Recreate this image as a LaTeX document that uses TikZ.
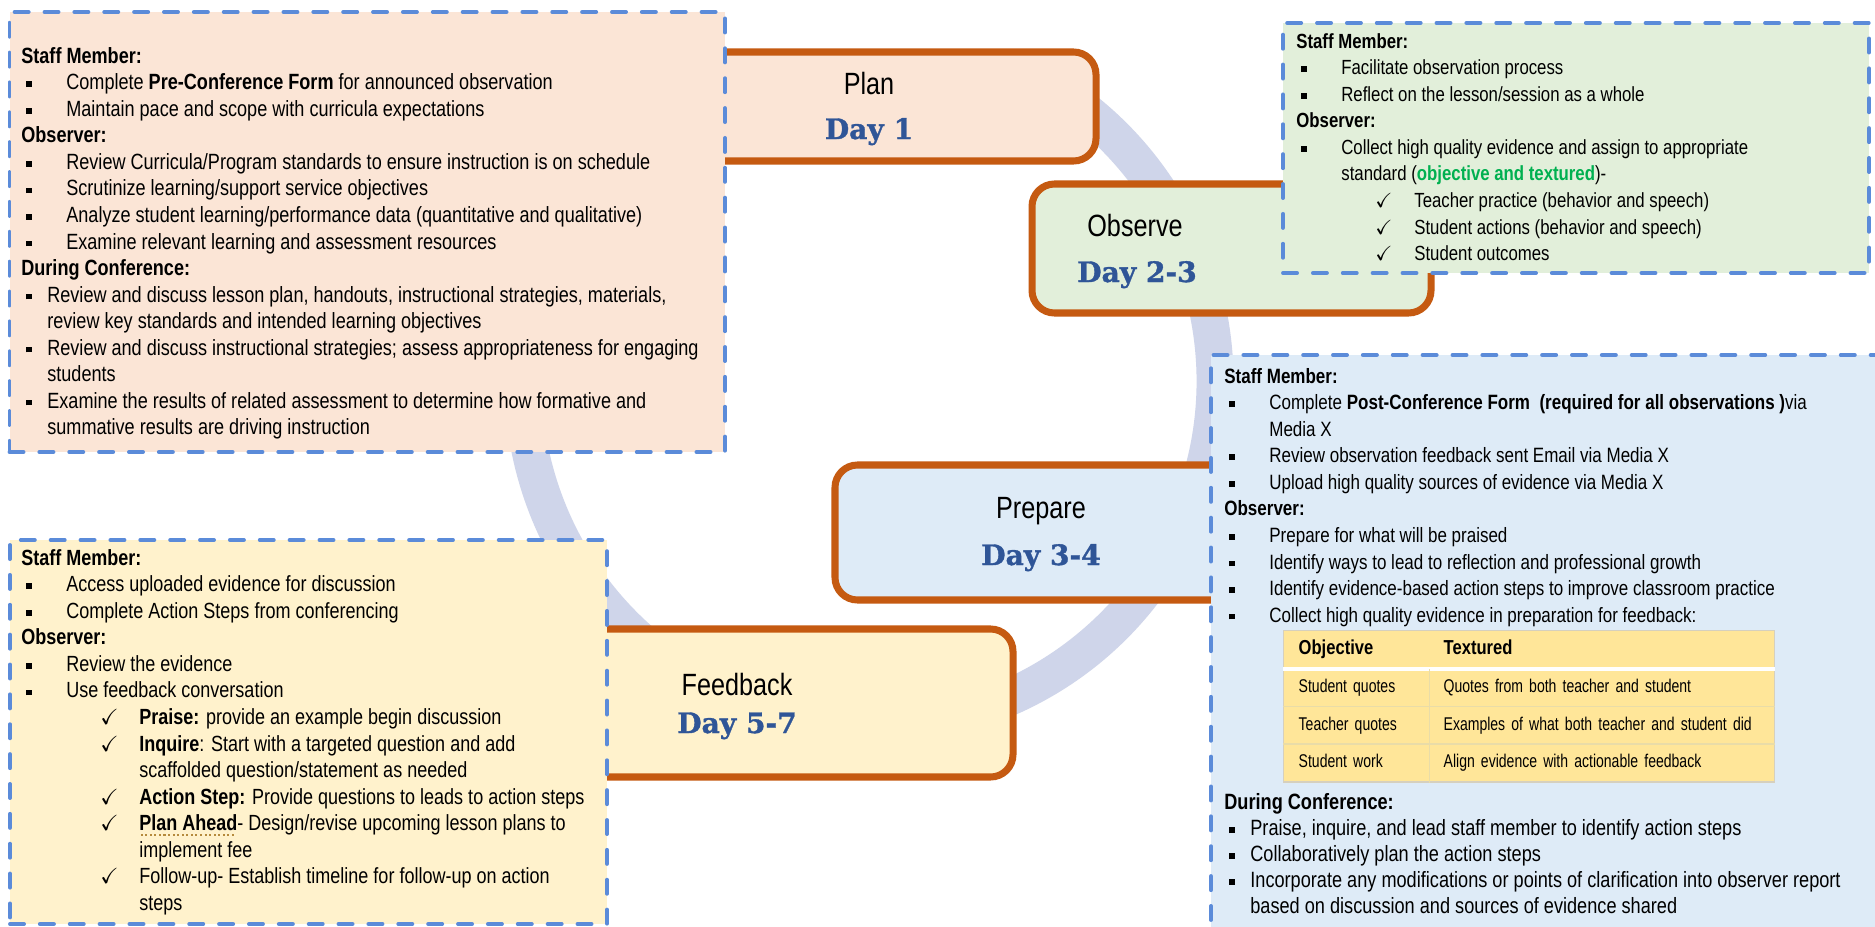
\documentclass[tikz,border=0pt]{standalone}
\usepackage{fontspec}
\setmainfont{Liberation Sans}[FakeStretch=0.82]
\newfontfamily\dayfont{DejaVu Serif}[BoldFeatures={FakeBold=1.2}]
\newfontfamily\cellfont{Liberation Sans}[FakeStretch=0.76]
\usepackage{amssymb}
\usetikzlibrary{fit,matrix}

\definecolor{peach}{HTML}{FBE5D6}
\definecolor{mint}{HTML}{E2EFDA}
\definecolor{sky}{HTML}{DEEBF7}
\definecolor{cream}{HTML}{FFF2CC}
\definecolor{rust}{HTML}{C55A11}
\definecolor{dashblue}{HTML}{5B8BD9}
\definecolor{ringblue}{HTML}{CFD5EA}
\definecolor{dayblue}{HTML}{2F5597}
\definecolor{keygreen}{HTML}{00B050}
\definecolor{tablegold}{HTML}{FFE699}
\definecolor{tablerule}{HTML}{E9DCA8}
\definecolor{tableedge}{HTML}{D6D0BE}
\definecolor{dotbrown}{HTML}{B58A3C}

% fonts for the note boxes
\newcommand{\notefont}[1]{\fontsize{#1}{15.1}\selectfont}
\newcommand{\tablefont}{\cellfont\fontsize{10.5}{12}\selectfont}
\newcommand{\headfont}{\fontsize{11.5}{13}\selectfont\bfseries}
% list items: square bullet, compact bullet, check mark, continued lines
\newcommand{\sqb}{\rule[1.6pt]{3.2pt}{3.2pt}}
\newcommand{\bul}[1]{\hspace*{0.1cm}\makebox[0.8cm][l]{\sqb}#1}
\newcommand{\bulc}[1]{\hspace*{0.1cm}\makebox[0.42cm][l]{\sqb}#1}
\newcommand{\chk}[1]{\hspace*{1.58cm}\makebox[0.78cm][l]{$\checkmark$}#1}
\newcommand{\contline}[1]{\hspace*{0.9cm}#1}
\newcommand{\contlinec}[1]{\hspace*{0.52cm}#1}
\newcommand{\contlinek}[1]{\hspace*{2.36cm}#1}
\newcommand{\dotul}[1]{\setbox0=\hbox{#1}\rlap{\color{dotbrown}\raisebox{-3pt}[0pt][0pt]{\hbox to \wd0{\leaders\hbox to 2.6pt{\hss\rule{1.2pt}{1.2pt}\hss}\hfill}}}\box0}

\begin{document}
\begin{tikzpicture}[x=0.02cm,y=-0.02cm]
    \tikzstyle{stagebox}=[draw=rust,line width=4pt,rounded corners=0.45cm,inner sep=0pt]
    \tikzstyle{notebox}=[draw=dashblue,line width=2.2pt,dash pattern=on 8pt off 9pt,line cap=round,inner sep=0pt]
    \tikzstyle{stagetitle}=[anchor=base,inner sep=0pt,font=\fontsize{17.5}{20}\selectfont]
    \tikzstyle{daytitle}=[anchor=base,inner sep=0pt,text=dayblue,font=\dayfont\bfseries\fontsize{16}{18}\selectfont]
    \tikzstyle{notetext}=[anchor=north west,inner sep=0pt,align=left]
    \tikzstyle{tablecell}=[inner xsep=0.3cm,inner ysep=0pt,minimum height=0.75cm,text height=7pt,text depth=2pt,align=left,font=\tablefont]

    \useasboundingbox (0,0) rectangle (1875,926);
    \clip (0,0) rectangle (1875,926);
    \fill[white] (0,0) rectangle (1875,926);

    % the cycle ring
    \draw[ringblue,line width=0.74cm] (869,381) ++(-60:346) arc[start angle=-60,end angle=210,radius=346];

    % stages
    \node (plan)[stagebox,fill=peach,fit={(642,52) (1096,161)}] {};
    \node (observe)[stagebox,fill=mint,fit={(1032,184) (1431,313)}] {};
    \node (prepare)[stagebox,fill=sky,fit={(835,465) (1250,600)}] {};
    \node (feedback)[stagebox,fill=cream,fit={(460,629) (1013,777)}] {};
    \node (plantitle)[stagetitle] at (869,94) {Plan};
    \node (planday)[daytitle] at (869,139) {Day 1};
    \node (observetitle)[stagetitle] at (1135,236) {Observe};
    \node (observeday)[daytitle] at (1137,282) {Day 2-3};
    \node (preparetitle)[stagetitle] at (1041,518) {Prepare};
    \node (prepareday)[daytitle] at (1041,565) {Day 3-4};
    \node (feedbacktitle)[stagetitle] at (737,695) {Feedback};
    \node (feedbackday)[daytitle] at (737,733) {Day 5-7};

    % note boxes
    \node (plannotes)[notebox,fill=peach,fit={(9.5,12) (725,452)}] {};
    \node (observenotes)[notebox,fill=mint,fit={(1283,23) (1869,273)}] {};
    \node (preparenotes)[notebox,fill=sky,fit={(1211,355) (1895,945)}] {};
    \node (feedbacknotes)[notebox,fill=cream,fit={(10,540) (607,924)}] {};

    \node (plantext)[notetext,font=\notefont{12.55}] at (21,44.4) {\strut\textbf{Staff Member:}\\
        \bul{Complete \textbf{Pre-Conference Form} for announced observation}\\
        \bul{Maintain pace and scope with curricula expectations}\\
        \textbf{Observer:}\\
        \bul{Review Curricula/Program standards to ensure instruction is on schedule}\\
        \bul{Scrutinize learning/support service objectives}\\
        \bul{Analyze student learning/performance data (quantitative and qualitative)}\\
        \bul{Examine relevant learning and assessment resources}\\
        \textbf{During Conference:}\\
        \bulc{Review and discuss lesson plan, handouts, instructional strategies, materials,}\\
        \contlinec{review key standards and intended learning objectives}\\
        \bulc{Review and discuss instructional strategies; assess appropriateness for engaging}\\
        \contlinec{students}\\
        \bulc{Examine the results of related assessment to determine how formative and}\\
        \contlinec{summative results are driving instruction}};

    \node (observetext)[notetext,font=\notefont{11.65}] at (1296,29.4) {\strut\textbf{Staff Member:}\\
        \bul{Facilitate observation process}\\
        \bul{Reflect on the lesson/session as a whole}\\
        \textbf{Observer:}\\
        \bul{Collect high quality evidence and assign to appropriate}\\
        \contline{standard ({\color{keygreen}\bfseries objective and textured})-}\\
        \chk{Teacher practice (behavior and speech)}\\
        \chk{Student actions (behavior and speech)}\\
        \chk{Student outcomes}};

    \node (preparetext)[notetext,font=\notefont{11.8}] at (1224,364.4) {\strut\textbf{Staff Member:}\\
        \bul{Complete \textbf{Post-Conference Form\ \ (required for all observations )}via}\\
        \contline{Media X}\\
        \bul{Review observation feedback sent Email via Media X}\\
        \bul{Upload high quality sources of evidence via Media X}\\
        \textbf{Observer:}\\
        \bul{Prepare for what will be praised}\\
        \bul{Identify ways to lead to reflection and professional growth}\\
        \bul{Identify evidence-based action steps to improve classroom practice}\\
        \bul{Collect high quality evidence in preparation for feedback:}};

    \matrix (evtable)[matrix of nodes,anchor=north west,inner sep=0pt,column sep=0pt,row sep=0pt,
        fill=tablegold,draw=tableedge,line width=0.8pt,nodes={tablecell},
        column 1/.style={nodes={text width=2.3cm}},
        column 2/.style={nodes={text width=6.32cm}},
        row 1/.style={nodes={minimum height=0.78cm,font=\headfont}}] at (1283,630) {
        Objective & Textured\\
        Student quotes & Quotes from both teacher and student\\
        Teacher quotes & Examples of what both teacher and student did\\
        Student work & Align evidence with actionable feedback\\
    };
    \draw[white,line width=1.8pt] (evtable-2-1.north west) -- (evtable-2-2.north east);
    \draw[tablerule,line width=1pt] (evtable-3-1.north west) -- (evtable-3-2.north east);
    \draw[tablerule,line width=1pt] (evtable-4-1.north west) -- (evtable-4-2.north east);
    \draw[tablerule,line width=1pt] (evtable-2-1.north east) -- (evtable-4-1.south east);

    \node (preparemore)[notetext,font=\fontsize{12.6}{14.75}\selectfont] at (1224,791.4) {\strut\textbf{During Conference:}\\
        \bulc{Praise, inquire, and lead staff member to identify action steps}\\
        \bulc{Collaboratively plan the action steps}\\
        \bulc{Incorporate any modifications or points of clarification into observer report}\\
        \contlinec{based on discussion and sources of evidence shared}};

    \node (feedbacktext)[notetext,font=\notefont{12.5}] at (21,546.4) {\strut\textbf{Staff Member:}\\
        \bul{Access uploaded evidence for discussion}\\
        \bul{Complete Action Steps from conferencing}\\
        \textbf{Observer:}\\
        \bul{Review the evidence}\\
        \bul{Use feedback conversation}\\
        \chk{\textbf{Praise:} provide an example begin discussion}\\
        \chk{\textbf{Inquire}: Start with a targeted question and add}\\
        \contlinek{scaffolded question/statement as needed}\\
        \chk{\textbf{Action Step:} Provide questions to leads to action steps}\\
        \chk{\dotul{\textbf{Plan Ahead}}- Design/revise upcoming lesson plans to}\\
        \contlinek{implement fee}\\
        \chk{Follow-up- Establish timeline for follow-up on action}\\
        \contlinek{steps}};
\end{tikzpicture}
\end{document}
